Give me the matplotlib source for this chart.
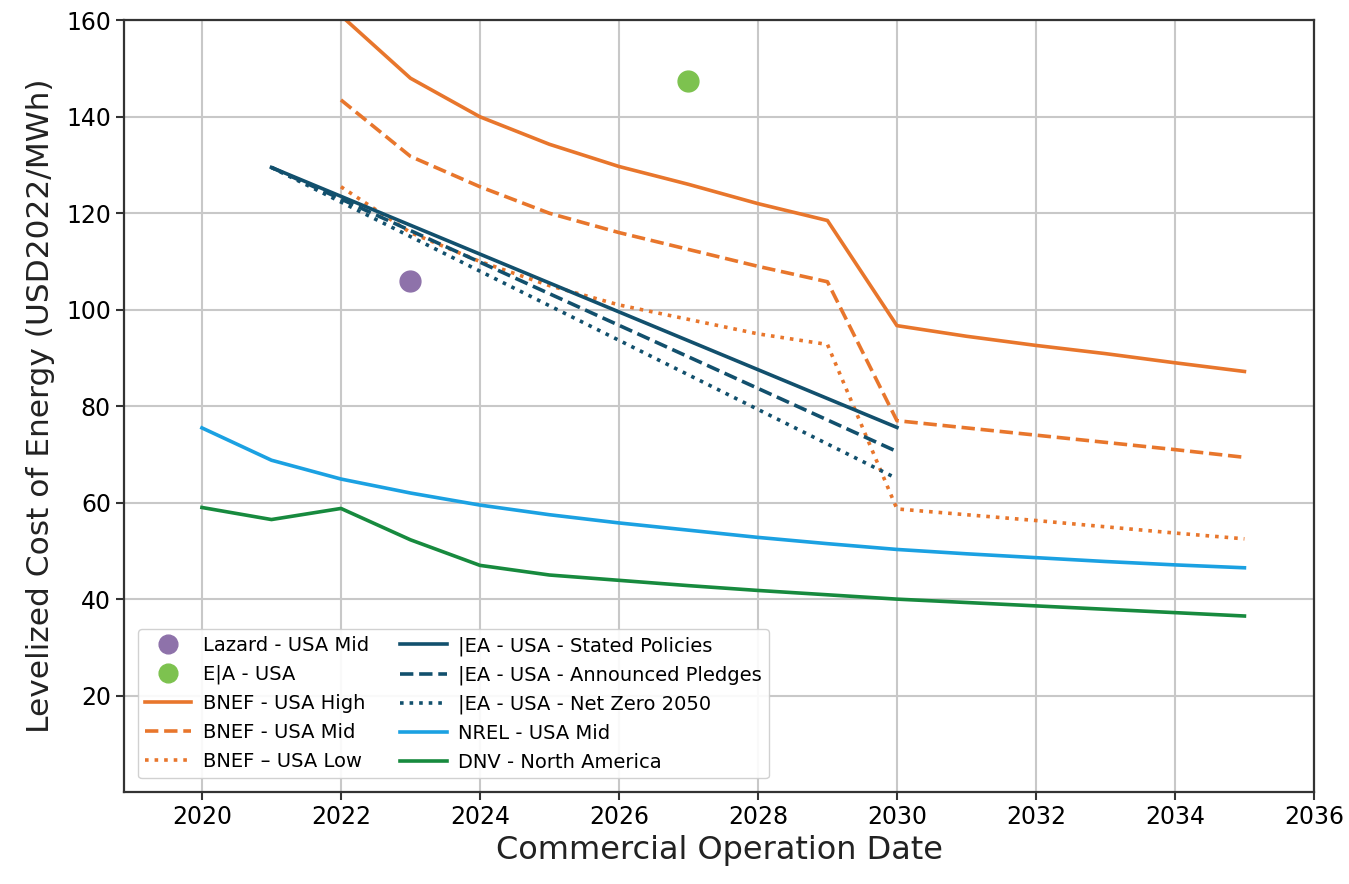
import matplotlib
matplotlib.use("Agg")
from matplotlib import pyplot as plt

years_bnef = [2022, 2023, 2024, 2025, 2026, 2027, 2028, 2029, 2030, 2031, 2032, 2033, 2034, 2035]
bnef_high = [161, 148, 140, 134.3, 129.7, 126, 122, 118.5, 96.7, 94.5, 92.6, 90.9, 89, 87.2]
bnef_mid = [143.5, 131.8, 125.5, 120, 116, 112.5, 109, 105.8, 77, 75.5, 74, 72.5, 71, 69.4]
bnef_low = [125.5, 116, 110, 105, 101, 98, 95, 92.8, 58.7, 57.5, 56.3, 55, 53.7, 52.5]

years_iea = [2021, 2030]
iea_stated = [129.5, 75.6]
iea_pledges = [129.5, 70.6]
iea_nz = [129.5, 65]

years_long = list(range(2020, 2036))
nrel_mid = [75.5, 68.8, 64.9, 62, 59.5, 57.5, 55.8, 54.3, 52.8, 51.5, 50.3, 49.4, 48.6, 47.8, 47.1, 46.5]
dnv_na = [59, 56.5, 58.8, 52.3, 47, 45, 43.9, 42.8, 41.8, 40.9, 40, 39.3, 38.6, 37.9, 37.2, 36.5]

lazard_x, lazard_y = [2023], [106]
eia_x, eia_y = [2027], [147.5]

orange = "#e8762c"
teal = "#12506d"
blue = "#1ba1e2"
green = "#178a3e"

fig = plt.figure(figsize=(13.49, 8.84), dpi=100)
ax = fig.add_axes([0.092, 0.104, 0.882, 0.873])

lw = 2.6
h_laz, = ax.plot(lazard_x, lazard_y, "o", color="#8e72aa", markersize=15, linestyle="none", label="Lazard - USA Mid")
h_eia, = ax.plot(eia_x, eia_y, "o", color="#7dc24f", markersize=15, linestyle="none", label="E|A - USA")
h_bh, = ax.plot(years_bnef, bnef_high, color=orange, lw=lw, label="BNEF - USA High")
h_bm, = ax.plot(years_bnef, bnef_mid, color=orange, lw=lw, linestyle="--", label="BNEF - USA Mid")
h_bl, = ax.plot(years_bnef, bnef_low, color=orange, lw=lw, linestyle=":", label="BNEF – USA Low")
h_is, = ax.plot(years_iea, iea_stated, color=teal, lw=lw, label="|EA - USA - Stated Policies")
h_ip, = ax.plot(years_iea, iea_pledges, color=teal, lw=lw, linestyle="--", label="|EA - USA - Announced Pledges")
h_in, = ax.plot(years_iea, iea_nz, color=teal, lw=lw, linestyle=":", label="|EA - USA - Net Zero 2050")
h_nr, = ax.plot(years_long, nrel_mid, color=blue, lw=lw, label="NREL - USA Mid")
h_dn, = ax.plot(years_long, dnv_na, color=green, lw=lw, label="DNV - North America")

ax.set_xlim(2018.88, 2036)
ax.set_ylim(0, 160)
ax.set_xticks(range(2020, 2037, 2))
ax.set_yticks(range(20, 161, 20))
ax.tick_params(labelsize=17, length=6, width=1.5, color="#333333")
ax.grid(True, color="#c8c8c8", lw=1.5)
ax.set_axisbelow(True)
for s in ax.spines.values():
    s.set_linewidth(1.6)
    s.set_color("#333333")

ax.set_xlabel("Commercial Operation Date", fontsize=23, color="#222222", labelpad=4)
ax.set_ylabel("Levelized Cost of Energy (USD2022/MWh)", fontsize=22.5, color="#222222", labelpad=8)

handles = [h_laz, h_eia, h_bh, h_bm, h_bl, h_is, h_ip, h_in, h_nr, h_dn]
leg = ax.legend(handles=handles, loc="lower left", ncol=2, fontsize=14, markerscale=0.9,
                handlelength=2.4, handletextpad=0.6, columnspacing=1.6, labelspacing=0.5,
                borderpad=0.35, borderaxespad=0.7, framealpha=0.9)

fig.savefig("out.png", dpi=100)
